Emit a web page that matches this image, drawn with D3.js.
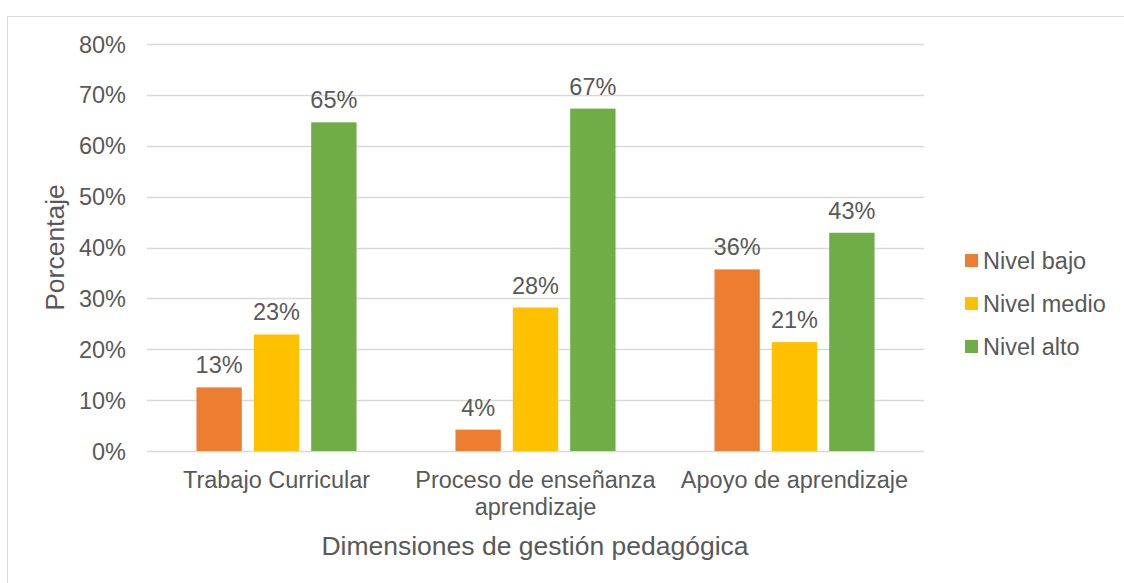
<!DOCTYPE html>
<html>
<head>
<meta charset="utf-8">
<script src="https://cdn.jsdelivr.net/npm/d3@7"></script>
<style>
  body { margin: 0; background: #fff; }
  text { font-family: "Liberation Sans", Arial, sans-serif; fill: #595959; }
</style>
</head>
<body>
<div id="chart-area"></div>
<script>
// categories and series values (percent)
const categories = ["Trabajo Curricular", "Proceso de enseñanza aprendizaje", "Apoyo de aprendizaje"];
const categoryLines = [["Trabajo Curricular"], ["Proceso de enseñanza", "aprendizaje"], ["Apoyo de aprendizaje"]];
const seriesNames = ["Nivel bajo", "Nivel medio", "Nivel alto"];
const nivelBajo = [12.5, 4.2, 35.7];
const nivelMedio = [22.9, 28.2, 21.4];
const nivelAlto = [64.6, 67.3, 42.9];
const yTicks = [0, 10, 20, 30, 40, 50, 60, 70, 80];
const colors = ["#ED7D31", "#FFC000", "#70AD47"];

const series = [nivelBajo, nivelMedio, nivelAlto];

let svg = d3.select("#chart-area")
        .append("svg")
        .attr("width", 1124)
        .attr("height", 583);

// outer frame
svg.append("rect")
    .attr("x", 7.5).attr("y", 16.5)
    .attr("width", 1130).attr("height", 580)
    .attr("fill", "none")
    .attr("stroke", "#d9d9d9");

let plotLeft = 147, plotRight = 924, plotTop = 44, plotBottom = 451;

let x = d3.scaleBand()
        .domain(categories)
        .range([plotLeft, plotRight])
        .paddingInner(0.382)
        .paddingOuter(0.191);

let xs = d3.scaleBand()
        .domain(seriesNames)
        .range([0, x.bandwidth()])
        .paddingInner(0.21);

let y = d3.scaleLinear()
        .domain([0, 80])
        .range([plotBottom, plotTop]);

// gridlines
svg.append("g")
    .selectAll("line")
    .data(yTicks)
    .enter()
    .append("line")
    .attr("x1", plotLeft).attr("x2", plotRight)
    .attr("y1", d => Math.round(y(d)) + 0.5)
    .attr("y2", d => Math.round(y(d)) + 0.5)
    .attr("stroke", "#d9d9d9")
    .attr("stroke-width", 1.3);

// y tick labels
svg.append("g")
    .selectAll("text")
    .data(yTicks)
    .enter()
    .append("text")
    .attr("x", 126)
    .attr("y", d => y(d) + 8.5)
    .attr("text-anchor", "end")
    .style("font-size", "23.5px")
    .text(d => d + "%");

// bars
series.forEach(function(vals, si){
    svg.append("g")
        .selectAll("rect")
        .data(vals)
        .enter()
        .append("rect")
        .attr("x", (d, i) => x(categories[i]) + xs(seriesNames[si]))
        .attr("y", d => y(d))
        .attr("width", xs.bandwidth())
        .attr("height", d => plotBottom - y(d))
        .style("fill", colors[si]);

    svg.append("g")
        .selectAll("text")
        .data(vals)
        .enter()
        .append("text")
        .attr("x", (d, i) => x(categories[i]) + xs(seriesNames[si]) + xs.bandwidth() / 2)
        .attr("y", d => y(d) - 14)
        .attr("text-anchor", "middle")
        .style("font-size", "23.5px")
        .text(d => Math.round(d) + "%");
});

// category labels
categoryLines.forEach(function(lines, i){
    let t = svg.append("text")
        .attr("x", x(categories[i]) + x.bandwidth() / 2)
        .attr("y", 488)
        .attr("text-anchor", "middle")
        .style("font-size", "23.5px");
    lines.forEach(function(l, j){
        t.append("tspan")
            .attr("x", x(categories[i]) + x.bandwidth() / 2)
            .attr("dy", j === 0 ? 0 : 27)
            .text(l);
    });
});

// axis titles
svg.append("text")
    .attr("x", (plotLeft + plotRight) / 2 - 0.5)
    .attr("y", 555)
    .attr("text-anchor", "middle")
    .style("font-size", "26.5px")
    .text("Dimensiones de gestión pedagógica");

svg.append("text")
    .attr("transform", "translate(64," + ((plotTop + plotBottom) / 2) + ") rotate(-90)")
    .attr("text-anchor", "middle")
    .style("font-size", "26.5px")
    .text("Porcentaje");

// legend
let legend = svg.append("g")
    .selectAll("g")
    .data(seriesNames)
    .enter()
    .append("g")
    .attr("transform", (d, i) => "translate(965," + (254 + i * 43) + ")");

legend.append("rect")
    .attr("width", 13).attr("height", 13)
    .style("fill", (d, i) => colors[i]);

legend.append("text")
    .attr("x", 18)
    .attr("y", 15)
    .style("font-size", "23.5px")
    .text(d => d);
</script>
</body>
</html>
